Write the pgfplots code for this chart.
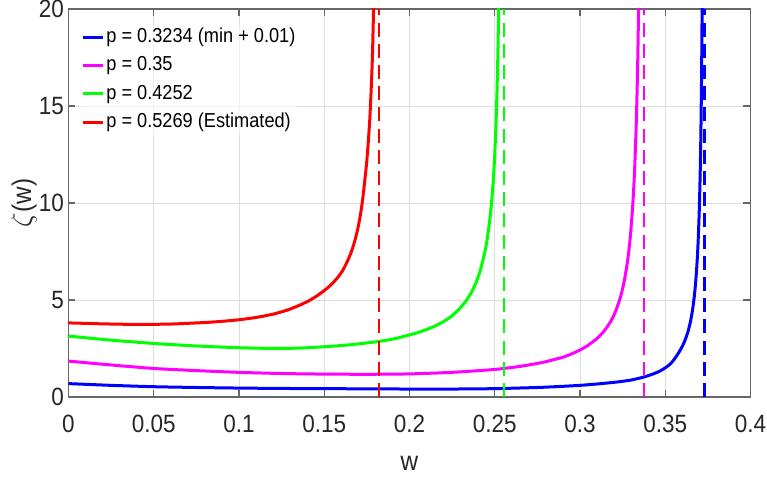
\documentclass[border=0pt]{standalone}
\usepackage{pgfplots}
\pgfplotsset{compat=1.18}
\usepackage{fontspec}
\setmainfont{Liberation Sans}[FakeStretch=0.9]
\definecolor{mblue}{RGB}{0,0,255}
\definecolor{mmag}{RGB}{255,0,255}
\definecolor{mgreen}{RGB}{0,255,0}
\definecolor{mred}{RGB}{255,0,0}
\begin{document}
\begin{tikzpicture}
\path[use as bounding box] (0,0) rectangle (383.5pt,240pt);
\begin{axis}[
  at={(34.25pt,41.5pt)}, anchor=south west,
  width=341pt, height=194pt, scale only axis,
  xmin=0, xmax=0.4, ymin=0, ymax=20,
  xtick={0,0.05,0.1,0.15,0.2,0.25,0.3,0.35,0.4},
  xticklabels={0,0.05,0.1,0.15,0.2,0.25,0.3,0.35,0.4},
  ytick={0,5,10,15,20},
  scaled x ticks=false,
  /pgf/number format/assume math mode=true,
  ticklabel style={font=\fontsize{12.5}{15}\selectfont, text=black!85},
  xticklabel style={yshift=-5.3pt},
  yticklabel style={xshift=1.2pt},
  grid=major,
  major grid style={color=black!13, line width=0.45pt},
  axis line style={black!60, line width=0.55pt},
  tick style={black!60, line width=0.55pt},
  major tick length=3.5pt,
  tick align=inside,
  xlabel={w}, ylabel={$\zeta$(w)},
  label style={font=\fontsize{13.5}{16}\selectfont, text=black!85},
  xlabel style={at={(axis description cs:0.5,-0.1347)}, anchor=north},
  ylabel style={at={(axis description cs:-0.0652,0.5)}, anchor=center},
  legend image code/.code={\draw[#1] (0pt,0pt) -- (10pt,0pt);},
  legend cell align=left,
  legend style={at={(axis description cs:0,1)}, anchor=north west,
    xshift=6.25pt, yshift=-8.2pt, draw=none, fill=white, fill opacity=0.6, text opacity=1,
    inner sep=0pt, row sep=2.4pt, column sep=0pt,
    nodes={inner sep=1pt, text height=7.5pt, text depth=2.2pt},
    font=\fontsize{10.1}{12}\selectfont, text=black},
  every axis plot/.append style={line join=round},
]
\addplot[mblue, line width=1.5pt, smooth, tension=0.35] coordinates {
(0,0.69) (0.025,0.60) (0.05,0.53) (0.075,0.49) (0.1,0.46) (0.125,0.44) (0.15,0.43)
(0.175,0.42) (0.2,0.41) (0.225,0.41) (0.25,0.43) (0.275,0.49) (0.29,0.55) (0.3,0.60)
(0.31,0.67) (0.3215,0.77) (0.33,0.875) (0.3371,1.02) (0.343,1.19) (0.3469,1.34)
(0.350,1.50) (0.3528,1.69) (0.355,1.91) (0.3577,2.26) (0.36,2.61) (0.3612,2.84)
(0.3625,3.14) (0.3635,3.42) (0.3648,3.89) (0.366,4.48) (0.3669,5.08) (0.3677,5.77)
(0.3684,6.57) (0.369,7.47) (0.3694,8.24) (0.3700,9.75) (0.3705,11.55) (0.3709,13.58)
(0.3713,16.5) (0.3716,19.7) (0.3718,22.7)};
\addlegendentry{p = 0.3234 (min + 0.01)}
\addplot[mmag, line width=1.5pt, smooth, tension=0.35] coordinates {
(0,1.85) (0.025,1.65) (0.05,1.47) (0.075,1.36) (0.1,1.27) (0.125,1.21) (0.15,1.18)
(0.175,1.17) (0.2,1.19) (0.225,1.27) (0.25,1.42) (0.265,1.58) (0.275,1.73) (0.28,1.82)
(0.29,2.05) (0.295,2.22) (0.30,2.42) (0.305,2.68) (0.31,3.02) (0.314,3.38) (0.318,3.89)
(0.321,4.44) (0.324,5.23) (0.326,5.99) (0.328,7.07) (0.3295,8.24) (0.331,9.96)
(0.332,11.64) (0.333,14.08) (0.3337,16.58) (0.3343,19.61) (0.3348,23.2)};
\addlegendentry{p = 0.35}
\addplot[mgreen, line width=1.5pt, smooth, tension=0.35] coordinates {
(0,3.14) (0.025,2.93) (0.05,2.76) (0.075,2.63) (0.1,2.54) (0.12,2.50) (0.135,2.52)
(0.15,2.59) (0.165,2.69) (0.18,2.84) (0.19,2.98) (0.2,3.20) (0.205,3.32) (0.21,3.48)
(0.215,3.66) (0.22,3.89) (0.225,4.19) (0.229,4.52) (0.2326,4.89) (0.236,5.34)
(0.239,5.89) (0.2415,6.52) (0.2433,7.14) (0.245,7.81) (0.2462,8.52) (0.2474,9.36)
(0.2484,10.3) (0.2493,11.35) (0.2501,12.68) (0.2508,14.23) (0.2514,16.0)
(0.2519,17.96) (0.2523,19.99) (0.2526,21.9)};
\addlegendentry{p = 0.4252}
\addplot[mred, line width=1.5pt, smooth, tension=0.35] coordinates {
(0,3.82) (0.02,3.77) (0.04,3.74) (0.06,3.76) (0.08,3.84) (0.09,3.90) (0.1,3.98)
(0.11,4.10) (0.12,4.27) (0.128,4.47) (0.135,4.71) (0.141,4.96) (0.146,5.23)
(0.1505,5.52) (0.1545,5.83) (0.158,6.17) (0.161,6.55) (0.1637,7.02) (0.166,7.51)
(0.168,8.07) (0.1697,8.68) (0.1712,9.38) (0.1725,10.16) (0.1737,11.1) (0.1748,12.0)
(0.1758,13.1) (0.1767,14.3) (0.1775,15.8) (0.1782,17.4) (0.1789,19.85) (0.1793,21.5)};
\addlegendentry{p = 0.5269 (Estimated)}
\addplot[mblue, line width=1.2pt, dash pattern=on 7pt off 3.6pt, forget plot] coordinates {(0.3731,0) (0.3731,20)};
\addplot[mmag, line width=1.2pt, dash pattern=on 7pt off 3.6pt, forget plot] coordinates {(0.3374,0) (0.3374,20)};
\addplot[mgreen, line width=1.2pt, dash pattern=on 7pt off 3.6pt, forget plot] coordinates {(0.2554,0) (0.2554,20)};
\addplot[mred, line width=1.2pt, dash pattern=on 7pt off 3.6pt, forget plot] coordinates {(0.1821,0) (0.1821,20)};
\end{axis}
\end{tikzpicture}
\end{document}
